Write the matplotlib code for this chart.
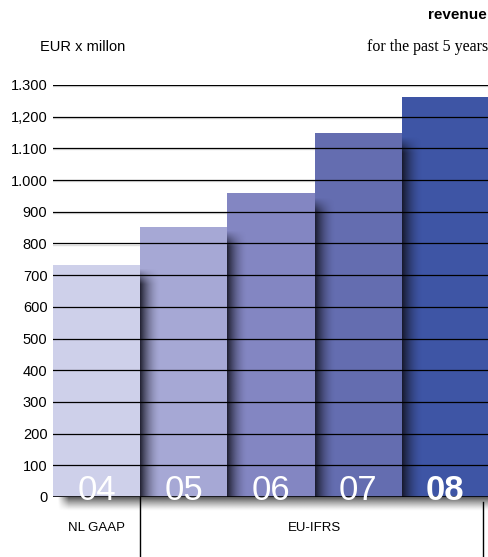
import numpy as np
import matplotlib.pyplot as plt
from matplotlib.colors import to_rgb

# revenue, EUR x million
years = ["04", "05", "06", "07", "08"]
revenue = [732, 852, 958, 1148, 1262]
bar_colors = ["#CED0EA", "#A6A8D5", "#8386C2", "#646DB0", "#3E55A5"]
ytick_values = list(range(0, 1301, 100))
ytick_labels = ["0", "100", "200", "300", "400", "500", "600", "700", "800",
                "900", "1.000", "1.100", "1,200", "1.300"]

plt.rcParams['font.family'] = ['Liberation Sans', 'DejaVu Sans']

fig = plt.figure(figsize=(4.89, 5.57), dpi=100)
ax = fig.add_axes([53 / 489, 60 / 557, 436 / 489, 412 / 557])
ax.set_xlim(-0.5, 4.5)
ax.set_ylim(0, 1300)

x = np.arange(len(years))
ax.bar(x, revenue, width=1.0, color=bar_colors, zorder=2)

# soft shadow right of each bar, falling on the next one
sw = 0.24
for i, h in enumerate(revenue):
    xs = np.linspace(0, 1, 60)
    ys = np.linspace(0, 1, 200)
    X, Y = np.meshgrid(xs, ys)
    top_fade = np.clip((1 - Y) * h / 50.0, 0, 1)  # Y=1 at top
    alpha = (1 - X) ** 1.8 * 0.9 * top_fade
    img = np.zeros((200, 60, 4))
    img[..., :3] = to_rgb("#12121f")
    img[..., 3] = alpha
    ax.imshow(img, extent=[i + 0.5, i + 0.5 + sw, 0, h - 12], origin='lower',
              aspect='auto', zorder=3, interpolation='bilinear')

# shadow under the baseline
ys = np.linspace(0, 1, 40)
col = np.zeros((40, 200, 4))
col[..., :3] = to_rgb("#2a2a2a")
xs = np.linspace(0, 1, 200)
X, Y = np.meshgrid(xs, ys)
col[..., 3] = (Y ** 1.3) * 0.85 * np.clip(X * 40, 0, 1)
ax.imshow(col, extent=[-0.45, 4.5, -45, 0], origin='lower', aspect='auto',
          zorder=1, clip_on=False, interpolation='bilinear')

# grid lines over the bars
for v in ytick_values:
    ax.axhline(v - 3.5, color="#dddddd", lw=1.0, zorder=1)
    ax.axhline(v, color="black", lw=1.2 if v == 0 else 0.9, zorder=4)

ax.set_yticks(ytick_values)
ax.set_yticklabels(ytick_labels, fontsize=10.5)
ax.tick_params(axis='y', length=0, pad=4)
ax.set_xticks([])
for s in ax.spines.values():
    s.set_visible(False)
ax.set_xlim(-0.5, 4.5)
ax.set_ylim(0, 1300)

# year labels inside the bars
for i, yr in enumerate(years):
    ax.text(i, -10, yr, color="white", fontsize=25, ha='center', va='baseline',
            fontweight='bold' if i == len(years) - 1 else 'normal', zorder=5,
            clip_on=False)

# accounting standard labels
trans = ax.get_xaxis_transform()
ax.plot([0.5, 0.5], [0, -60 / 412], color="black", lw=1, transform=trans, clip_on=False)
ax.plot([4.43, 4.43], [-5 / 412, -60 / 412], color="black", lw=1, transform=trans, clip_on=False)
ax.text(0, -31 / 412, "NL GAAP", fontsize=9.5, ha='center', va='center', transform=trans)
ax.text(2.5, -31 / 412, "EU-IFRS", fontsize=9.5, ha='center', va='center', transform=trans)

# header texts
fig.text(487 / 489, 1 - 15 / 557, "revenue", fontsize=11, fontweight='bold',
         ha='right', va='center')
fig.text(40 / 489, 1 - 47 / 557, "EUR x millon", fontsize=10.5, ha='left', va='center')
fig.text(488 / 489, 1 - 47 / 557, "for the past 5 years", fontsize=11.5,
         family=['Liberation Serif', 'DejaVu Serif'], ha='right', va='center')

fig.savefig("out.png", dpi=100)
